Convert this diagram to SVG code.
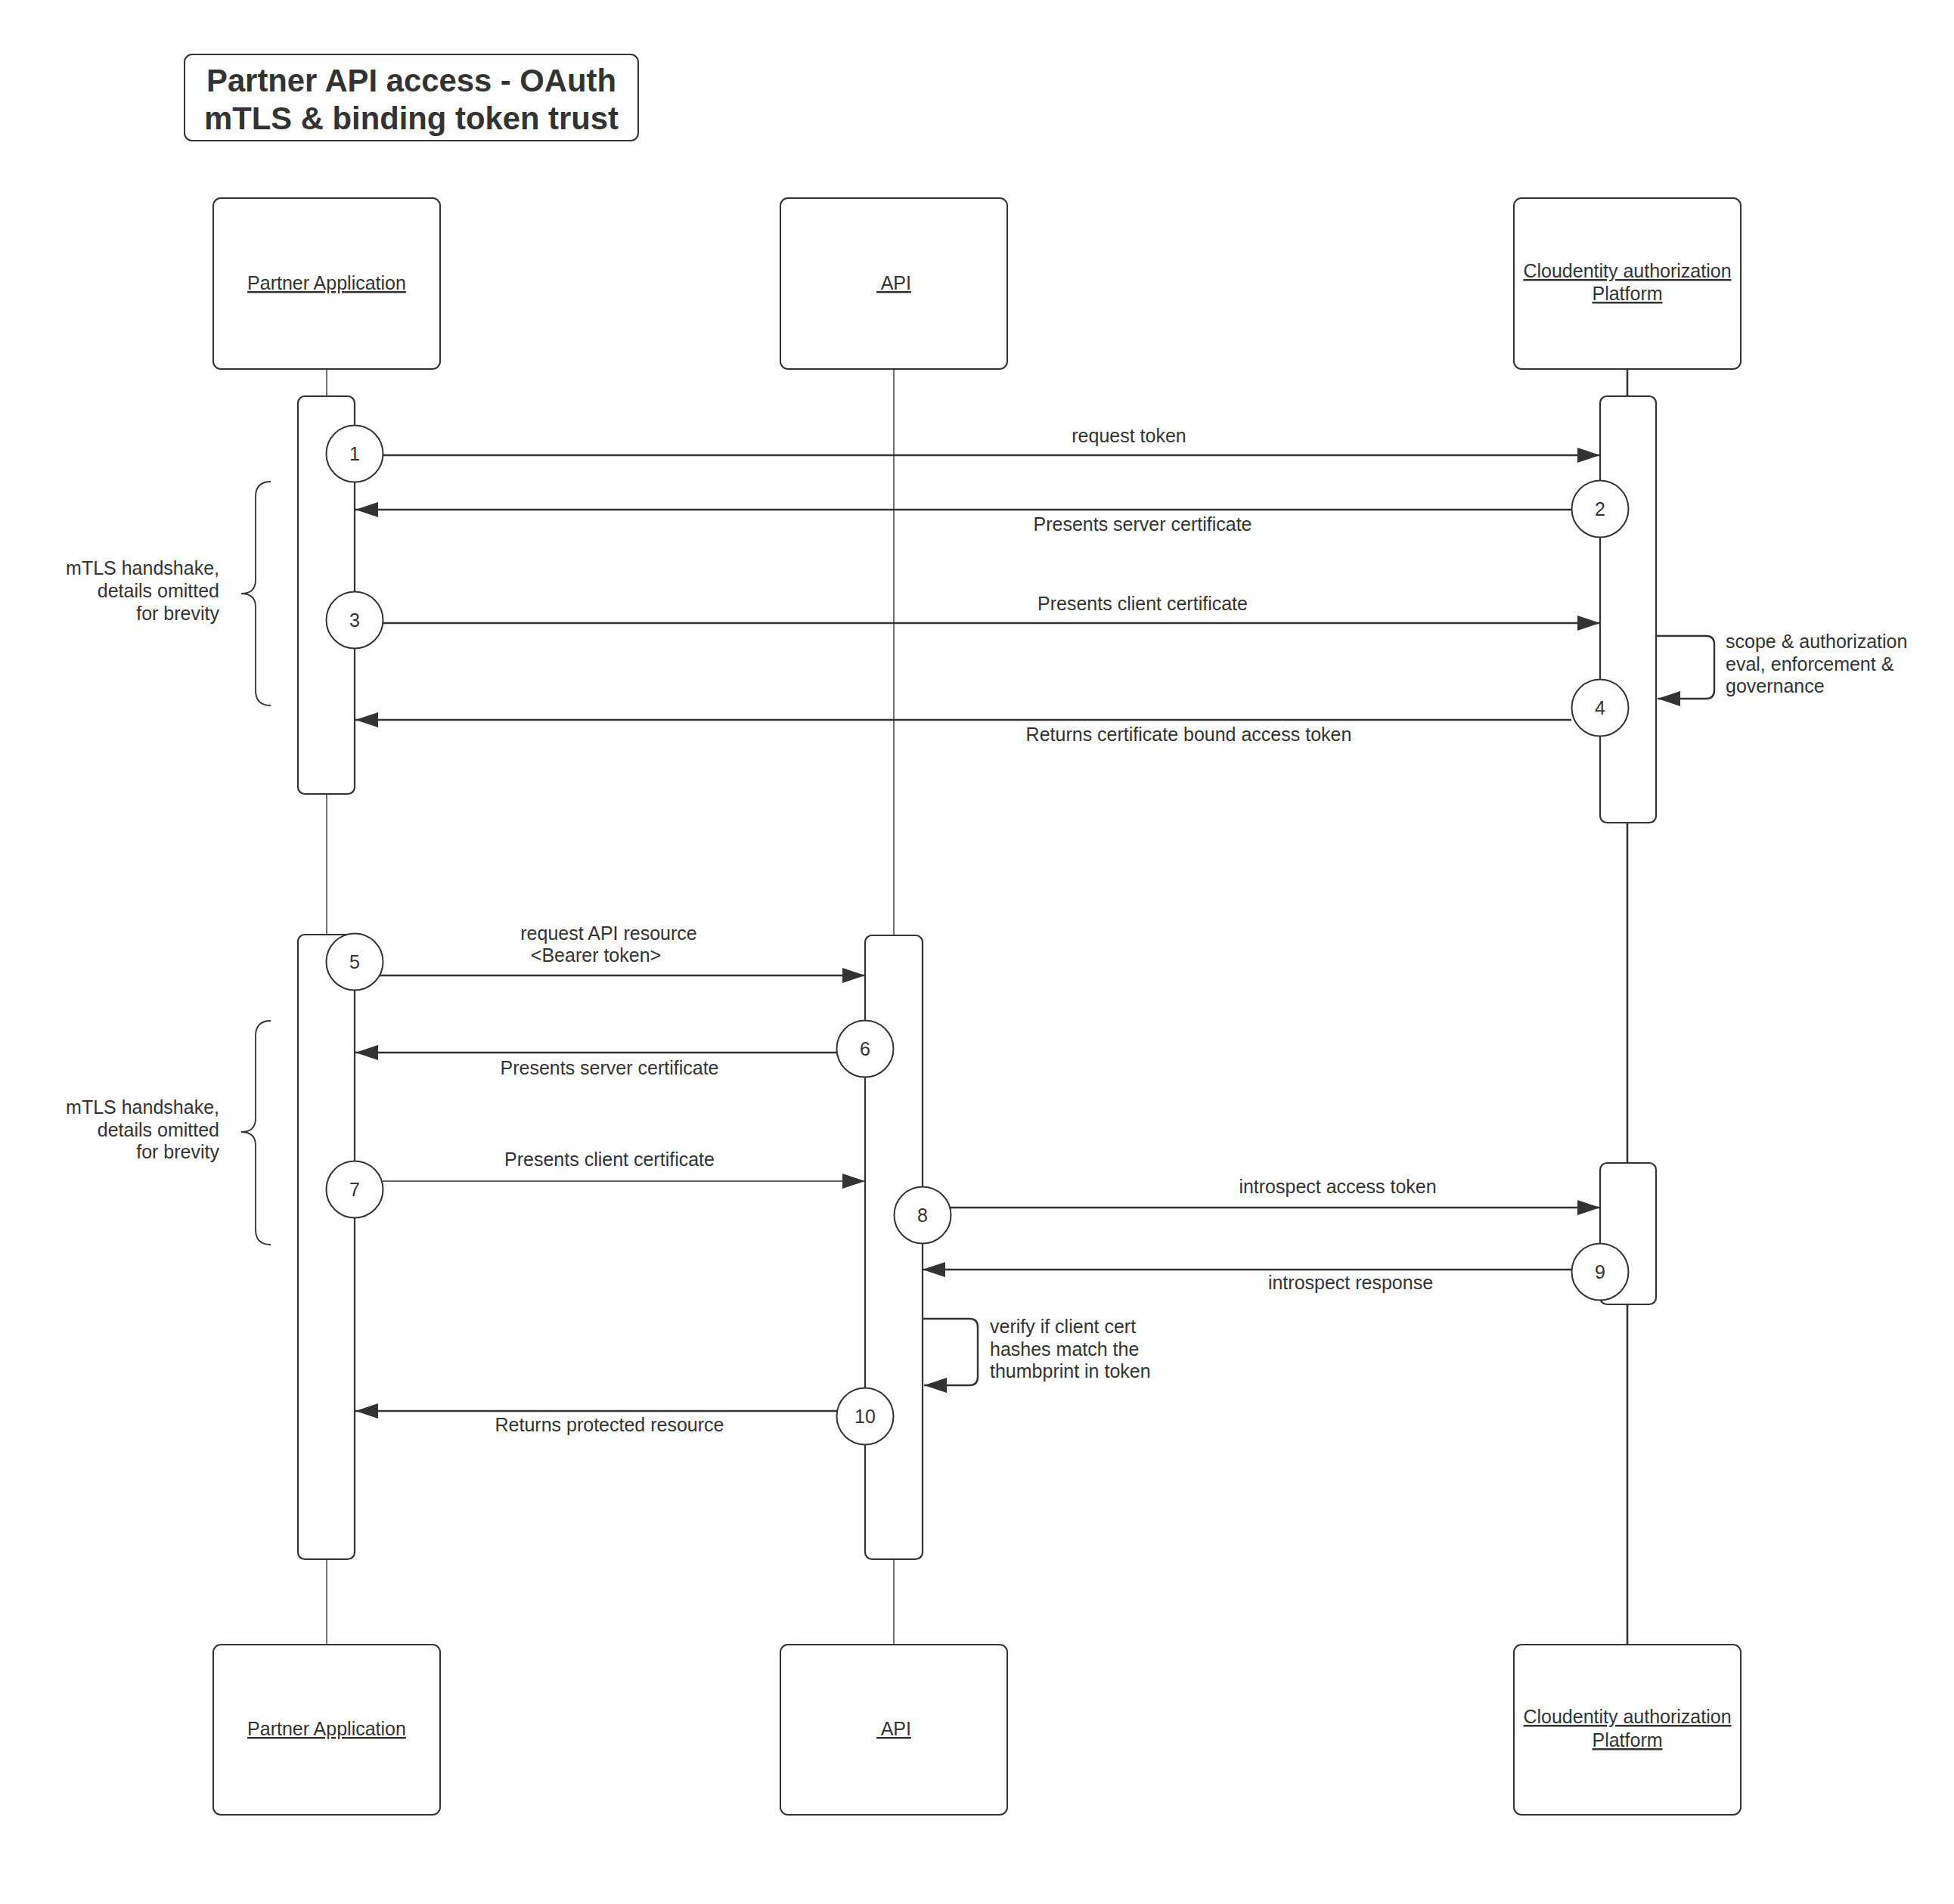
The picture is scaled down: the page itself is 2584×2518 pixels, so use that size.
<svg xmlns="http://www.w3.org/2000/svg" width="2584" height="2518" viewBox="0 0 2584 2518">
<defs>
<style>
.box{fill:#fff;stroke:#333;stroke-width:2}
.bar{fill:#fff;stroke:#333;stroke-width:2.2}
.life{stroke:#444;stroke-width:1.5;fill:none}
.lifeb{stroke:#333;stroke-width:2.6;fill:none}
.msg{stroke:#333;stroke-width:2.4;fill:none}
.thin{stroke:#333;stroke-width:1.4;fill:none}
.brace{stroke:#333;stroke-width:1.8;fill:none}
.num{fill:#fff;stroke:#333;stroke-width:2}
text{font-family:"Liberation Sans",Arial,sans-serif;font-size:25px;fill:#333}
.c{text-anchor:middle}
.r{text-anchor:end}
.u{text-decoration:underline}
.title{font-size:41.8px;font-weight:bold;text-anchor:middle}
</style>
<marker id="ah" markerUnits="userSpaceOnUse" markerWidth="30" markerHeight="20" refX="30" refY="10" orient="auto">
<path d="M0,0 L30,10 L0,20 z" fill="#333"/>
</marker>
</defs>
<rect width="2584" height="2518" fill="#fff"/>

<g id="title">
<rect class="box" x="244" y="72" width="600" height="114" rx="10"/>
<text class="title" x="544" y="121">Partner API access - OAuth</text>
<text class="title" x="544" y="171">mTLS &amp; binding token trust</text>
</g>

<g id="lifelines">
<line class="life" x1="432" y1="488" x2="432" y2="524"/>
<line class="life" x1="432" y1="1050" x2="432" y2="1236"/>
<line class="life" x1="432" y1="2062" x2="432" y2="2175"/>
<line class="life" x1="1182" y1="488" x2="1182" y2="1237"/>
<line class="life" x1="1182" y1="2062" x2="1182" y2="2175"/>
<line class="lifeb" x1="2152" y1="488" x2="2152" y2="524"/>
<line class="lifeb" x1="2152" y1="1088" x2="2152" y2="1538"/>
<line class="lifeb" x1="2152" y1="1725" x2="2152" y2="2175"/>
</g>

<g id="partner-top"><rect class="box" x="282" y="262" width="300" height="226" rx="10"/><text class="c u" x="432" y="383">Partner Application</text></g>
<g id="api-top"><rect class="box" x="1032" y="262" width="300" height="226" rx="10"/><text class="c u" x="1182" y="383" style="white-space:pre"> API</text></g>
<g id="cloud-top"><rect class="box" x="2002" y="262" width="300" height="226" rx="10"/><text class="c u" x="2152" y="367">Cloudentity authorization</text><text class="c u" x="2152" y="397">Platform</text></g>

<g id="partner-bottom"><rect class="box" x="282" y="2175" width="300" height="225" rx="10"/><text class="c u" x="432" y="2295">Partner Application</text></g>
<g id="api-bottom"><rect class="box" x="1032" y="2175" width="300" height="225" rx="10"/><text class="c u" x="1182" y="2295" style="white-space:pre"> API</text></g>
<g id="cloud-bottom"><rect class="box" x="2002" y="2175" width="300" height="225" rx="10"/><text class="c u" x="2152" y="2279">Cloudentity authorization</text><text class="c u" x="2152" y="2310">Platform</text></g>

<g id="activations">
<rect id="partner-act1" class="bar" x="394" y="524" width="75" height="526" rx="9"/>
<rect id="partner-act2" class="bar" x="394" y="1236" width="75" height="826" rx="9"/>
<rect id="cloud-act1" class="bar" x="2116" y="524" width="74" height="564" rx="9"/>
<rect id="api-act" class="bar" x="1144" y="1237" width="76" height="825" rx="9"/>
<rect id="cloud-act2" class="bar" x="2116" y="1538" width="74" height="187" rx="9"/>
</g>

<g id="connectors">
<line class="msg" x1="506" y1="602" x2="2116" y2="602" marker-end="url(#ah)"/>
<line class="msg" x1="2078" y1="674" x2="470" y2="674" marker-end="url(#ah)"/>
<line class="msg" x1="506" y1="824" x2="2116" y2="824" marker-end="url(#ah)"/>
<line class="msg" x1="2078" y1="952" x2="470" y2="952" marker-end="url(#ah)"/>
<path class="msg" d="M2190,841 H2256 Q2267,841 2267,852 V913 Q2267,924 2256,924 H2192" marker-end="url(#ah)"/>
<line class="msg" x1="502" y1="1290" x2="1144" y2="1290" marker-end="url(#ah)"/>
<line class="msg" x1="1107" y1="1392" x2="470" y2="1392" marker-end="url(#ah)"/>
<line class="thin" x1="506" y1="1562" x2="1144" y2="1562" marker-end="url(#ah)"/>
<line class="msg" x1="1257" y1="1597" x2="2116" y2="1597" marker-end="url(#ah)"/>
<line class="msg" x1="2079" y1="1679" x2="1220" y2="1679" marker-end="url(#ah)"/>
<path class="msg" d="M1220,1744 H1282 Q1293,1744 1293,1755 V1821 Q1293,1832 1282,1832 H1222" marker-end="url(#ah)"/>
<line class="msg" x1="1107" y1="1866" x2="470" y2="1866" marker-end="url(#ah)"/>
<path class="brace" d="M358,637 Q338,637 338,657 V767 Q338,785 319,785 Q338,785 338,803 V913 Q338,933 358,933"/>
<path class="brace" d="M358,1350 Q338,1350 338,1370 V1479 Q338,1497 319,1497 Q338,1497 338,1515 V1626 Q338,1646 358,1646"/>
</g>

<g id="steps">
<g id="step1"><circle class="num" cx="469" cy="600" r="37.5"/><text class="c" x="469" y="609">1</text></g>
<g id="step2"><circle class="num" cx="2116" cy="673" r="37.5"/><text class="c" x="2116" y="682">2</text></g>
<g id="step3"><circle class="num" cx="469" cy="820" r="37.5"/><text class="c" x="469" y="829">3</text></g>
<g id="step4"><circle class="num" cx="2116" cy="936" r="37.5"/><text class="c" x="2116" y="945">4</text></g>
<g id="step5"><circle class="num" cx="469" cy="1272" r="37.5"/><text class="c" x="469" y="1281">5</text></g>
<g id="step6"><circle class="num" cx="1144" cy="1387" r="37.5"/><text class="c" x="1144" y="1396">6</text></g>
<g id="step7"><circle class="num" cx="469" cy="1573" r="37.5"/><text class="c" x="469" y="1582">7</text></g>
<g id="step8"><circle class="num" cx="1220" cy="1607" r="37.5"/><text class="c" x="1220" y="1616">8</text></g>
<g id="step9"><circle class="num" cx="2116" cy="1682" r="37.5"/><text class="c" x="2116" y="1691">9</text></g>
<g id="step10"><circle class="num" cx="1144" cy="1873" r="37.5"/><text class="c" x="1144" y="1882">10</text></g>
</g>

<g id="labels">
<text class="c" x="1493" y="585">request token</text>
<text class="c" x="1511" y="702">Presents server certificate</text>
<text class="c" x="1511" y="807">Presents client certificate</text>
<text class="c" x="1572" y="980">Returns certificate bound access token</text>
<text x="2282" y="857">scope &amp; authorization</text>
<text x="2282" y="887">eval, enforcement &amp;</text>
<text x="2282" y="916">governance</text>
<text class="c" x="805" y="1243">request API resource</text>
<text class="c" x="788" y="1272">&lt;Bearer token&gt;</text>
<text class="c" x="806" y="1421">Presents server certificate</text>
<text class="c" x="806" y="1542">Presents client certificate</text>
<text class="c" x="1769" y="1578">introspect access token</text>
<text class="c" x="1786" y="1705">introspect response</text>
<text x="1309" y="1763">verify if client cert</text>
<text x="1309" y="1793">hashes match the</text>
<text x="1309" y="1822">thumbprint in token</text>
<text class="c" x="806" y="1893">Returns protected resource</text>
<text class="r" x="290" y="760">mTLS handshake,</text>
<text class="r" x="290" y="790">details omitted</text>
<text class="r" x="290" y="820">for brevity</text>
<text class="r" x="290" y="1473">mTLS handshake,</text>
<text class="r" x="290" y="1503">details omitted</text>
<text class="r" x="290" y="1532">for brevity</text>
</g>
</svg>
